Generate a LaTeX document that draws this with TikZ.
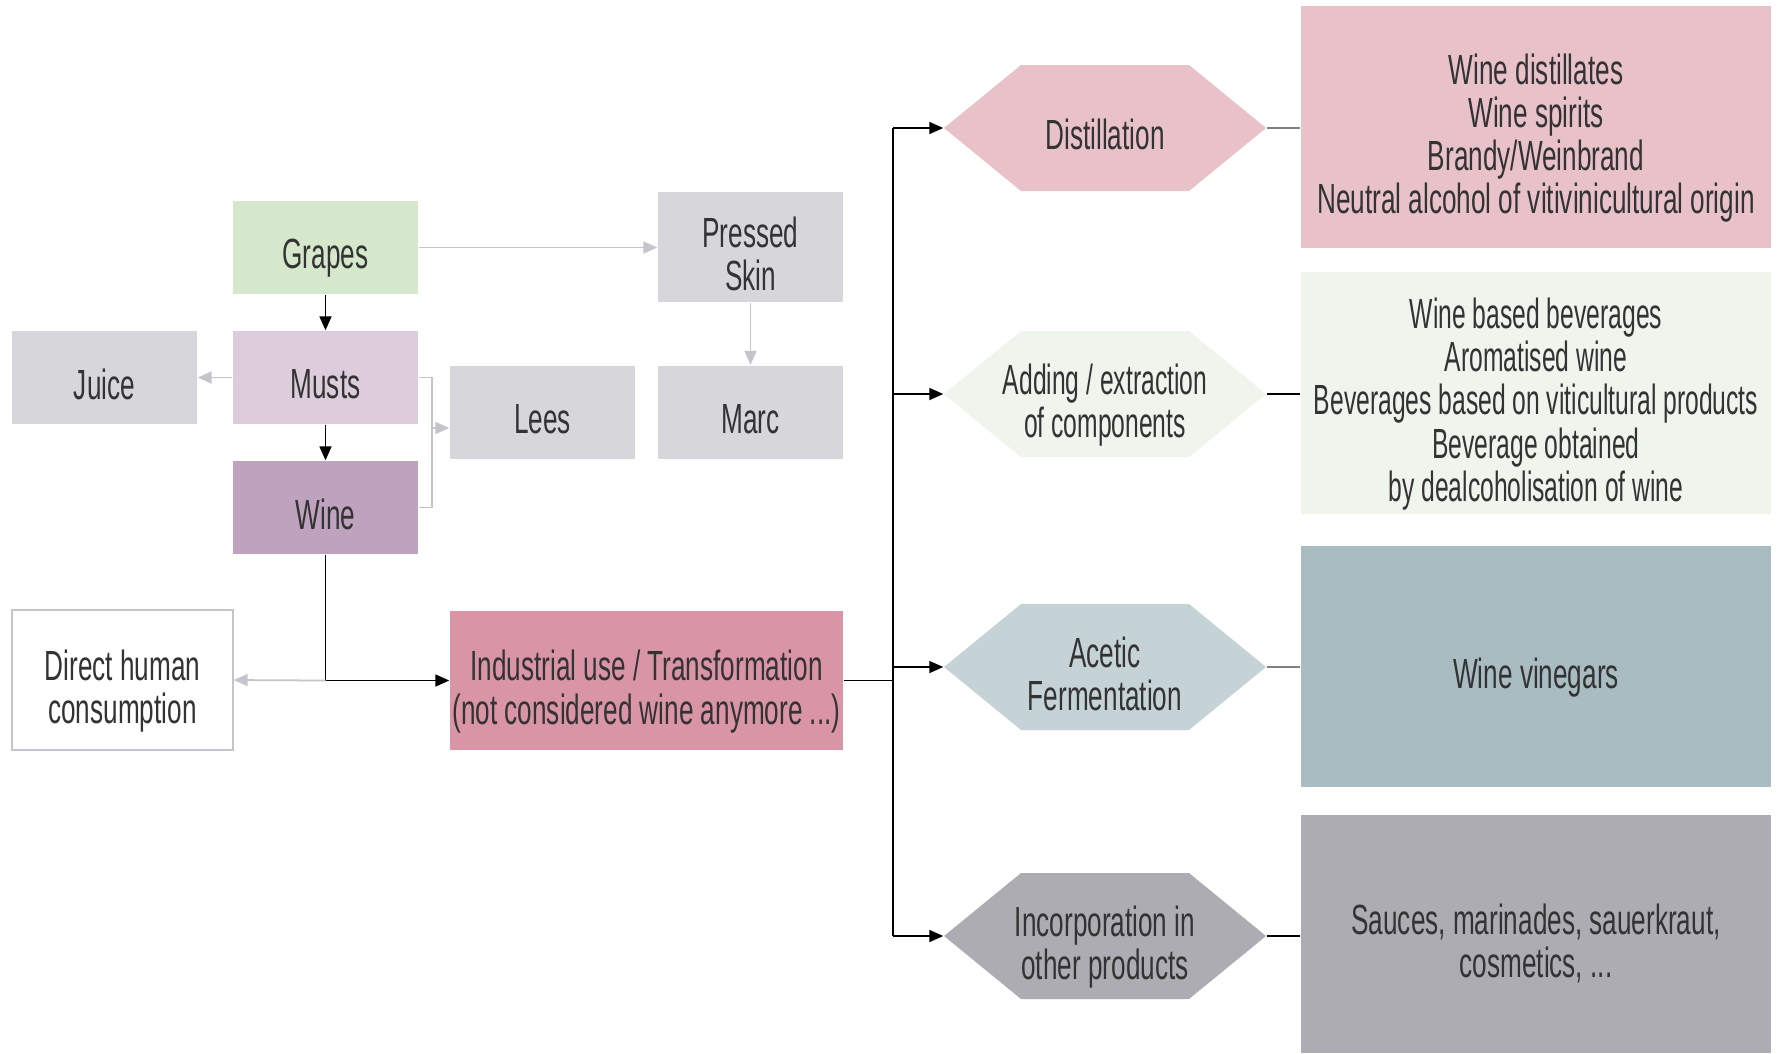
\documentclass[tikz,border=0pt]{standalone}
\usepackage{fontspec}
\setmainfont{Liberation Sans}[FakeStretch=0.62]
\newfontfamily\narrowfont{Liberation Sans}[FakeStretch=0.585]
\usetikzlibrary{arrows.meta}

\definecolor{grapecol}{HTML}{D5E8CC}
\definecolor{mustcol}{HTML}{DDCDDC}
\definecolor{winecol}{HTML}{BFA3BE}
\definecolor{residuecol}{HTML}{D6D6DB}
\definecolor{industrycol}{HTML}{D995A5}
\definecolor{distilcol}{HTML}{E8C1C9}
\definecolor{addcol}{HTML}{EFF4EC}
\definecolor{aceticcol}{HTML}{C5D3D7}
\definecolor{vinegarcol}{HTML}{A9BCC2}
\definecolor{incorpcol}{HTML}{ADACB2}
\definecolor{textcol}{HTML}{333333}
\definecolor{linegray}{HTML}{C4C4CA}

% text set a little below the middle of its box
\newcommand{\txt}[1]{\raisebox{-1.3mm}[\height][\depth]{\begin{tabular}{@{}c@{}}#1\end{tabular}}}

\tikzset{
  box/.style={rectangle, inner sep=0pt, text=textcol,
    font=\fontsize{12pt}{12pt}\selectfont},
  smallbox/.style={box, minimum width=1.85cm, minimum height=0.93cm},
  resultbox/.style={box, minimum width=4.70cm, minimum height=2.42cm},
  hexa/.style={box, fill=white, minimum width=3.22cm, minimum height=1.26cm,
    path picture={\fill[#1] (path picture bounding box.west)
      -- ([xshift=0.77cm]path picture bounding box.north west)
      -- ([xshift=-0.77cm]path picture bounding box.north east)
      -- (path picture bounding box.east)
      -- ([xshift=-0.77cm]path picture bounding box.south east)
      -- ([xshift=0.77cm]path picture bounding box.south west) -- cycle;}},
  blackline/.style={draw=black, line width=0.5pt},
  grayline/.style={draw=linegray, line width=0.5pt},
  blackarrow/.style={blackline, -{Triangle[length=1.4mm, width=1.2mm]}},
  grayarrow/.style={grayline, -{Triangle[length=1.4mm, width=1.2mm, fill=linegray]}}
}

\begin{document}
\begin{tikzpicture}
    \useasboundingbox (0,0) rectangle (17.79,-10.53);
    % grapes and what comes out of them
    \node[smallbox, fill=grapecol] (grapes) at (3.255,-2.475) {\txt{Grapes}};
    \node[smallbox, fill=mustcol] (musts) at (3.255,-3.775) {\txt{Musts}};
    \node[smallbox, fill=winecol] (wine) at (3.255,-5.075) {\txt{Wine}};
    \node[smallbox, fill=residuecol] (juice) at (1.045,-3.775) {\txt{Juice}};
    \node[smallbox, fill=residuecol] (lees) at (5.425,-4.12) {\txt{Lees}};
    \node[smallbox, fill=residuecol] (marc) at (7.505,-4.12) {\txt{Marc}};
    \node[smallbox, fill=residuecol, minimum height=1.10cm] (skin) at (7.505,-2.47) {\txt{Pressed\\Skin}};
    \node[box, draw=linegray, fill=white, minimum width=2.21cm, minimum height=1.40cm] (dhc) at (1.225,-6.80) {\txt{Direct human\\consumption}};
    \node[box, fill=industrycol, minimum width=3.93cm, minimum height=1.39cm] (industrial) at (6.465,-6.805) {\txt{Industrial use / Transformation\\(not considered wine anymore ...)}};

    % transformations
    \node[hexa=distilcol] (distil) at (11.05,-1.28) {\txt{Distillation}};
    \node[hexa=addcol] (adding) at (11.05,-3.94) {\narrowfont\txt{Adding / extraction\\of components}};
    \node[hexa=aceticcol] (acetic) at (11.05,-6.67) {\txt{Acetic\\Fermentation}};
    \node[hexa=incorpcol] (incorp) at (11.05,-9.36) {\txt{Incorporation in\\other products}};

    % products
    \node[resultbox, fill=distilcol] (res1) at (15.36,-1.27) {\txt{Wine distillates\\Wine spirits\\Brandy/Weinbrand\\Neutral alcohol of vitivinicultural origin}};
    \node[resultbox, fill=addcol] (res2) at (15.36,-3.93) {\narrowfont\txt{Wine based beverages\\Aromatised wine\\Beverages based on viticultural products\\Beverage obtained\\by dealcoholisation of wine}};
    \node[resultbox, fill=vinegarcol, minimum height=2.41cm] (res3) at (15.36,-6.665) {\txt{Wine vinegars}};
    \node[resultbox, fill=incorpcol, minimum height=2.38cm] (res4) at (15.36,-9.34) {\txt{Sauces, marinades, sauerkraut,\\cosmetics, ...}};

    % connectors
    \draw[blackarrow] (grapes) -- (musts);
    \draw[blackarrow] (musts) -- (wine);
    \draw[grayarrow] (grapes.east) -- (grapes.east -| skin.west);
    \draw[grayarrow] (skin) -- (marc);
    \draw[grayarrow] (musts) -- (juice);
    \draw[grayline] (musts.east) -- ++(0.13,0) |- (wine.east);
    \coordinate (leesin) at (4.31,-4.28);
    \draw[grayarrow] (leesin) -- (leesin -| lees.west);
    \coordinate (split) at (wine.south |- industrial.west);
    \draw[blackline] (wine.south) -- (split);
    \draw[blackarrow] (split) -- (industrial.west);
    \draw[grayarrow] (split) -- (dhc.east);
    \coordinate (trunk) at (8.93,-6.805);
    \draw[blackline] (industrial.east) -- (trunk);
    \draw[blackline] (trunk |- distil.west) -- (trunk |- incorp.west);
    \foreach \h in {distil,adding,acetic,incorp}{
        \draw[blackarrow] (trunk |- \h.west) -- (\h.west);
    }
    \draw[grayline, draw=gray] (distil.east) -- (distil.east -| res1.west);
    \draw[blackline] (adding.east) -- (adding.east -| res2.west);
    \draw[grayline, draw=gray] (acetic.east) -- (acetic.east -| res3.west);
    \draw[blackline] (incorp.east) -- (incorp.east -| res4.west);
\end{tikzpicture}
\end{document}
